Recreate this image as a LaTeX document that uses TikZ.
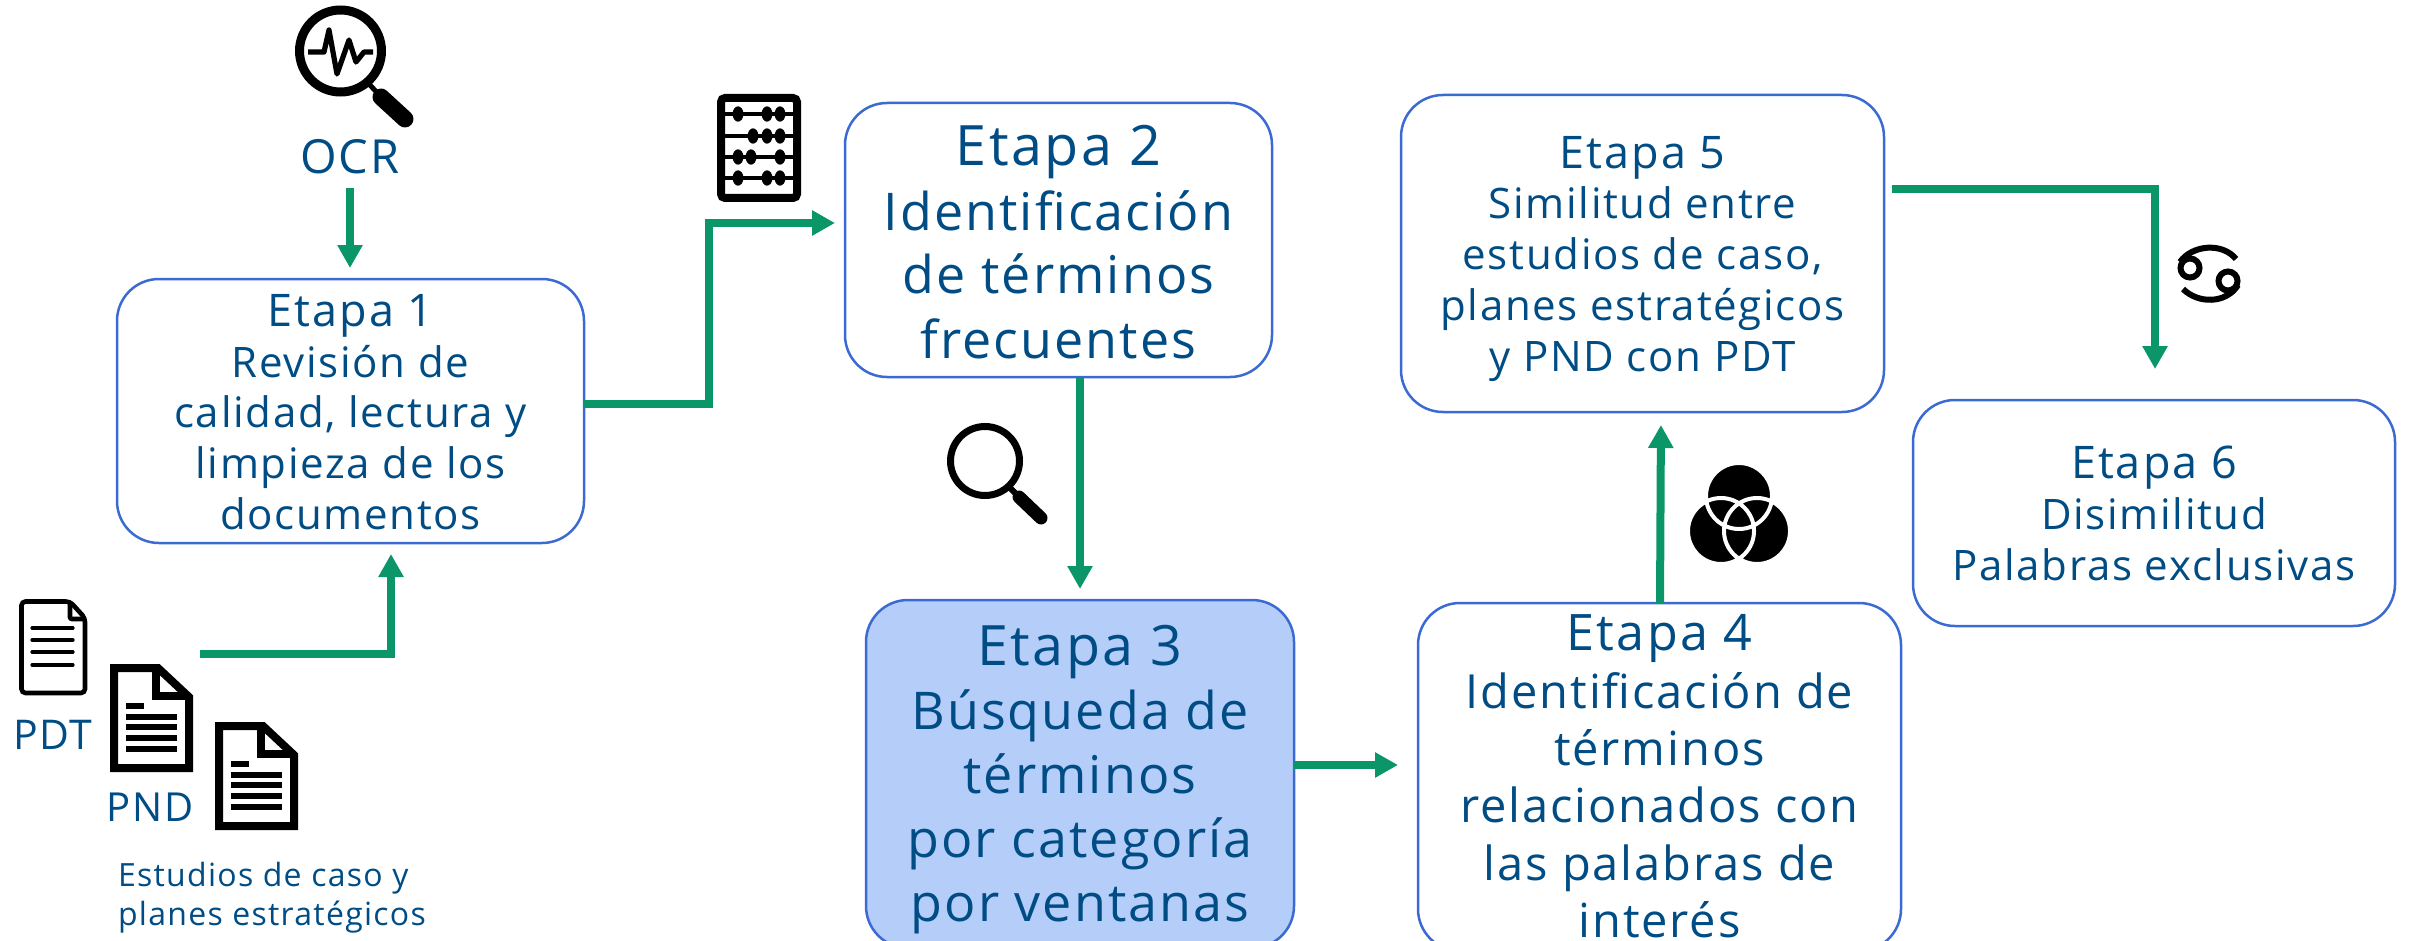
\documentclass[tikz,border=0pt]{standalone}
\usepackage{fontspec}
\setmainfont[LetterSpace=4]{Open Sans}
\newfontfamily\headfont[Scale=1.07,LetterSpace=4.5]{Open Sans}
\usetikzlibrary{arrows.meta}
\definecolor{ink}{HTML}{004C84}
\definecolor{edge}{HTML}{3B6BD2}
\definecolor{tint}{HTML}{B4CDF9}
\definecolor{flowgreen}{HTML}{0A9669}
\newcommand{\boxlines}[2]{\raisebox{#1}[\height][\depth]{\begin{tabular}{@{}c@{}}#2\end{tabular}}}
\newcommand{\hd}[1]{{\headfont #1}}
\tikzset{
  box/.style={draw=edge,line width=1.25pt,rounded corners=21pt,inner sep=0pt,outer sep=0pt,
    text=ink,fill=white},
  small/.style={font=\fontsize{21}{25.4}\selectfont},
  mid/.style={font=\fontsize{23.5}{28.7}\selectfont},
  large/.style={font=\fontsize{26}{32}\selectfont},
  flow/.style={draw=flowgreen,line width=4pt,-{Triangle[length=11.5pt,width=12pt]}},
  lab/.style={text=ink,inner sep=0pt,outer sep=0pt},
  bar/.style={fill=black,draw=none},
  bigdoc/.pic={
    \draw[black,line width=4pt,miter limit=10] (114,668) -- (158,668) -- (189,697) -- (189,768) -- (114,768) -- cycle;
    \draw[black,line width=4pt] (155.5,668) -- (155.5,696) -- (189,696);
    \fill[bar] (126,703) rectangle (144,709);
    \fill[bar] (126,714) rectangle (177,720);
    \fill[bar] (126,724) rectangle (177,730);
    \fill[bar] (126,735) rectangle (177,741);
    \fill[bar] (126,746) rectangle (177,752);
  }
}
\begin{document}
\begin{tikzpicture}[x=0.5pt,y=-0.5pt]
\useasboundingbox (0,0) rectangle (2412,941);
% boxes
\node[box,small,minimum width=233.5pt,minimum height=132pt] (e1) at (350.5,411)
  {\boxlines{-3.4pt}{\hd{Etapa 1}\\Revisión de\\calidad, lectura y\\limpieza de los\\documentos}};
\node[box,large,minimum width=213.5pt,minimum height=137pt] (e2) at (1058.5,240)
  {\boxlines{-4.6pt}{\hd{Etapa 2}\\Identificación\\de términos\\frecuentes}};
\node[box,large,fill=tint,minimum width=214pt,minimum height=174pt] (e3) at (1080,774)
  {\boxlines{-3.5pt}{\hd{Etapa 3}\\Búsqueda de\\términos\\por categoría\\por ventanas}};
\node[box,mid,minimum width=241.5pt,minimum height=174pt] (e4) at (1659.5,777)
  {\boxlines{-2.9pt}{\hd{Etapa 4}\\Identificación de\\términos\\relacionados con\\las palabras de\\interés}};
\node[box,small,minimum width=241.5pt,minimum height=158.5pt] (e5) at (1642.5,253.5)
  {\boxlines{-3pt}{\hd{Etapa 5}\\Similitud entre\\estudios de caso,\\planes estratégicos\\y PND con PDT}};
\node[box,small,minimum width=241pt,minimum height=113pt] (e6) at (2154,513)
  {\boxlines{-3.1pt}{\hd{Etapa 6}\\Disimilitud\\Palabras exclusivas}};
% labels
\node[lab,font=\fontsize{23.5}{26}\selectfont] (ocr) at (350,157) {OCR};
\node[lab,font=\fontsize{20.5}{24}\selectfont] (pdt) at (53,735) {PDT};
\node[lab,font=\fontsize{20}{24}\selectfont] (pnd) at (150,807) {PND};
\node[lab,align=left,anchor=west,font=\fontsize{16}{19.5}\selectfont] (est) at (118,898)
  {Estudios de caso y\\planes estratégicos};
% connectors
\coordinate (docs) at (200,654);
\coordinate (ocrfoot) at (350,188);
\draw[flow,shorten >=5.5pt] (ocrfoot) -- (350,0 |- e1.north);
\draw[flow,shorten >=5.5pt] (docs) -- (391,654) -- (391,0 |- e1.south);
\draw[flow,shorten >=5pt] (e1.east |- 0,404) -- (709,404) -- (709,223) -- (e2.west |- 0,223);
\draw[flow,shorten >=5.5pt] (1080,0 |- e2.south) -- (1080,0 |- e3.north);
\draw[flow,shorten >=10pt] (e3.east |- 0,765) -- (e4.west |- 0,765);
\draw[flow,shorten >=6.5pt] (1660,0 |- e4.north) -- (1661,0 |- e5.south);
\draw[flow,shorten <=4pt] (e5.east |- 0,189) -- (2155,189) -- (2155,369);
% OCR magnifier
\draw[black,line width=4.5pt] (340.5,51) circle (41);
\draw[black,line width=2.5pt] (369,84) -- (384,100);
\draw[black,line width=8.5pt,line cap=round] (381,97) -- (405,119);
\draw[black,line width=2.6pt,line join=round,line cap=butt] (308,52) -- (324,52) -- (329,30) -- (337,74) -- (349,40) -- (356,62) -- (364,52) -- (373,52);
% abacus
\draw[black,line width=4pt,rounded corners=2pt] (721,98) rectangle (797,198);
\foreach \ry/\a/\b/\c in {114/738/767/780,136/753/767/780,157/738/751/780,178/738/767/780}{
  \draw[black,line width=1.7pt] (722,\ry) -- (796,\ry);
  \foreach \bx in {\a,\b,\c}{\fill[black] (\bx,\ry) ellipse (5.4 and 7.7);}
}
% plain magnifier
\draw[black,line width=3.5pt] (985,461) circle (34.5);
\draw[black,line width=3pt] (1009,487) -- (1022,500);
\draw[black,line width=6.5pt,line cap=round] (1019,497) -- (1041,518);
% venn
\fill[black] (1739,496) circle (33) (1721,531) circle (33) (1757,531) circle (33);
\draw[white,line width=2pt] (1739,496) circle (33) (1721,531) circle (33) (1757,531) circle (33);
% cancer sign
\draw[black,line width=3pt] (2190,268) circle (9.5) (2228,281) circle (9.5);
\draw[black,line width=3pt] (2180,262) .. controls (2192,245) and (2222,242) .. (2236,259);
\draw[black,line width=3pt] (2183,289) .. controls (2198,304) and (2226,304) .. (2238,285);
% PDT document
\draw[black,line width=2.3pt,rounded corners=2pt] (21.5,601.5) -- (70,601.5) -- (85,618) -- (85,693) -- (21.5,693) -- cycle;
\draw[black,line width=2.3pt,rounded corners=1pt] (70,601.5) -- (70,619) -- (85,619);
\foreach \ly in {628,640,652,665}{\draw[black,line width=1.6pt,line cap=round] (32,\ly) -- (73,\ly);}
% bold documents
\pic at (0,0) {bigdoc};
\pic at (105,58) {bigdoc};
\end{tikzpicture}
\end{document}
